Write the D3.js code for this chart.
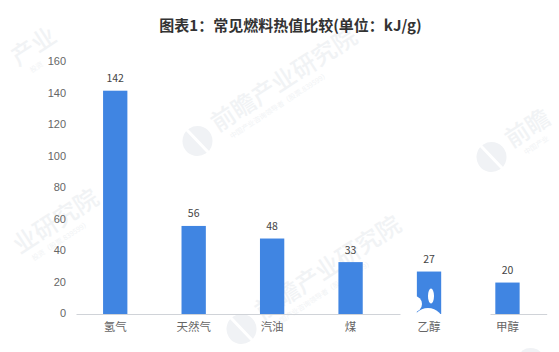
<!DOCTYPE html>
<html>
<head>
<meta charset="utf-8">
<script src="https://cdn.jsdelivr.net/npm/d3@7"></script>
<style>
  html, body { margin: 0; padding: 0; background: #fff; }
  svg { display: block; }
  text { font-family: "Noto Sans CJK SC", "Liberation Sans", sans-serif; }
</style>
</head>
<body>
<svg id="chart" width="559" height="352"></svg>
<script>
const categories = ['氢气', '天然气', '汽油', '煤', '乙醇', '甲醇']
const values = [142, 56, 48, 33, 27, 20]
const yTicks = [0, 20, 40, 60, 80, 100, 120, 140, 160]
const titleText = '图表1：常见燃料热值比较(单位：kJ/g)'

const svg = d3.select('#chart')

const x = d3.scaleBand()
  .domain(categories)
  .range([76, 546.7])
  .paddingInner(0.69)
  .paddingOuter(0.345)

const y = d3.scaleLinear()
  .domain([0, 160])
  .range([314, 62.4])

// watermarks sit behind the bars
function watermark(px, py, name, sub, logo) {
  const g = svg.append('g').attr('transform', `translate(${px},${py}) rotate(-33)`)
  if (logo) {
    g.append('circle').attr('cx', -16).attr('cy', -2).attr('r', 15).attr('fill', '#f0f2f5')
    g.append('path').attr('d', 'M-19,-18 L-13,14').attr('stroke', '#fff').attr('stroke-width', 3)
  }
  if (name) {
    g.append('text').attr('x', 6).attr('y', 2)
      .attr('font-size', 24).attr('font-weight', 500).attr('fill', '#f1f3f5')
      .text(name)
    g.append('text').attr('x', 14).attr('y', 15)
      .attr('font-size', 7).attr('fill', '#f1f3f5')
      .text(sub)
  }
}

watermark(212, 134, '前瞻产业研究院', '中国产业咨询领导者（股票.839599）', true)
watermark(14, 256, '业研究院', '投资（股票.839599）', false)
watermark(506, 150, '前瞻', '中国产业', true)
watermark(256, 322, '前瞻产业研究院', '中国产业咨询领导者（股票.839599）', true)
watermark(545, 356, '', '', true)
watermark(12, 68, '产业', '投资', false)

svg.append('text')
  .attr('x', 290.5).attr('y', 31)
  .attr('text-anchor', 'middle')
  .attr('font-size', 15).attr('font-weight', 700).attr('fill', '#333')
  .text(titleText)

svg.selectAll('.bar')
  .data(values)
  .enter()
  .append('rect')
  .attr('class', 'bar')
  .attr('x', (d, i) => x(categories[i]))
  .attr('y', d => y(d))
  .attr('width', x.bandwidth())
  .attr('height', d => y(0) - y(d))
  .attr('fill', '#4085e2')

svg.selectAll('.value')
  .data(values)
  .enter()
  .append('text')
  .attr('class', 'value')
  .attr('x', (d, i) => x(categories[i]) + x.bandwidth() / 2)
  .attr('y', d => y(d) - 8.5)
  .attr('text-anchor', 'middle')
  .attr('font-size', 10.5)
  .attr('fill', '#444')
  .text(d => d)

const yAxis = d3.axisLeft(y).tickValues(yTicks).tickSize(0).tickPadding(0)
svg.append('g')
  .attr('transform', 'translate(66,-1)')
  .call(yAxis)
  .call(g => g.select('.domain').remove())
  .call(g => g.selectAll('text')
    .attr('font-size', 11)
    .attr('fill', '#666')
    .style('font-family', '"Liberation Sans", sans-serif'))

// white logo of the watermark lying over the 27 bar
const blot = svg.append('g')
blot.append('circle').attr('cx', 428).attr('cy', 324).attr('r', 16).attr('fill', '#fff')
blot.append('circle').attr('cx', 414).attr('cy', 304).attr('r', 8).attr('fill', '#fff')
blot.append('ellipse').attr('cx', 431).attr('cy', 296).attr('rx', 3).attr('ry', 7.5).attr('fill', '#fff')

const xAxis = d3.axisBottom(x).tickSize(0).tickPadding(9)
const xAxisG = svg.append('g')
  .attr('transform', 'translate(0,314)')
  .call(xAxis)
// the same watermark also breaks the axis line
xAxisG.select('.domain').attr('stroke', '#d0d3d8').attr('stroke-dasharray', '324,90,100')
xAxisG.selectAll('text')
  .attr('font-size', 11.5)
  .attr('fill', '#666')
</script>
</body>
</html>
